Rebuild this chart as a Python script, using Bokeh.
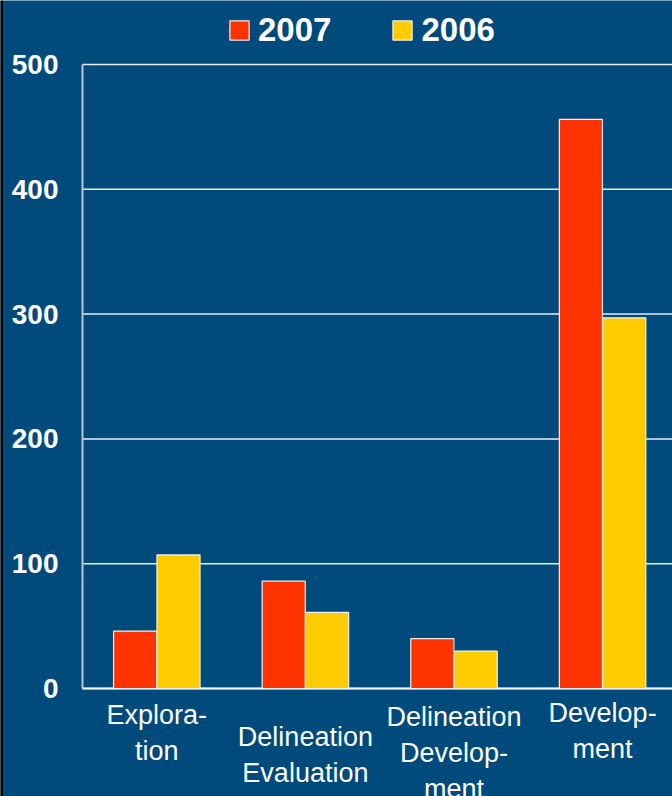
from bokeh.plotting import figure
from bokeh.models import Range1d, Legend, LegendItem, FixedTicker, ColumnDataSource, Span
from bokeh.transform import dodge
from bokeh.core.properties import value
from bokeh.embed import file_html
from bokeh.resources import INLINE

categories = ["Explora-\ntion", "Delineation\nEvaluation", "Delineation\nDevelop-\nment", "Develop-\nment"]
values_2007 = [46, 86, 40, 456]
values_2006 = [107, 61, 30, 297]
series_names = ["2007", "2006"]
y_ticks = [0, 100, 200, 300, 400, 500]

BG = "#014A7C"
RED = "#FF3300"
YEL = "#FFCC00"
FONT = "Liberation Sans"

# layout (pixels)
W, H = 672, 796
LEFT = 82
TOP = 64      # pixel row of the top gridline
BASE = 688    # pixel row of the zero line
CAT_W = 148.6 # pixel width of one category

px_per_unit = (BASE - TOP) / (y_ticks[-1] - y_ticks[0])
y_start = y_ticks[0] - (H - BASE) / px_per_unit
y_end = y_ticks[-1] + TOP / px_per_unit
x_start = -LEFT / CAT_W
x_end = (W - LEFT) / CAT_W

x_pos = [i + 0.5 for i in range(len(categories))]
label_offsets = [11, 33, 13, 9]

src = ColumnDataSource(dict(x=x_pos, v07=values_2007, v06=values_2006,
                            cat=categories, off=label_offsets))

p = figure(width=W, height=H, output_backend="svg", toolbar_location=None,
           x_range=Range1d(x_start, x_end), y_range=Range1d(y_start, y_end),
           min_border_left=0, min_border_right=0, min_border_top=0, min_border_bottom=0)

p.background_fill_color = BG
p.border_fill_color = BG
p.outline_line_color = None

# gridlines (incl. zero line) drawn only over the plotting area
p.xgrid.grid_line_color = None
p.ygrid.grid_line_color = None
p.segment(x0=[0] * len(y_ticks), y0=y_ticks, x1=[x_end] * len(y_ticks), y1=y_ticks,
          line_color="#E8EEF4", line_width=1.5)

# left axis line from 0 to 500
p.segment(x0=[0], y0=[y_ticks[0]], x1=[0], y1=[y_ticks[-1]], line_color="#B4C6D8", line_width=2)
# zero line brighter
p.segment(x0=[0], y0=[0], x1=[x_end], y1=[0], line_color="#F4F4F4", line_width=2)

# dark edge at the far left
p.add_layout(Span(location=x_start, dimension="height", line_color="black", line_width=5))

w = 0.29
r07 = p.vbar(x=dodge("x", -0.146, range=p.x_range), top="v07", width=w, source=src,
             fill_color=RED, line_color="#F0F0F0", line_width=1.2)
r06 = p.vbar(x=dodge("x", 0.146, range=p.x_range), top="v06", width=w, source=src,
             fill_color=YEL, line_color="#F0F0F0", line_width=1.2)

# category labels
p.text(x="x", y=0, text="cat", y_offset="off", source=src, text_align="center",
       text_baseline="top", text_color="white", text_font=value(FONT),
       text_font_size="27px", text_line_height=1.2)

# y axis fixed at x = 0 inside the canvas
p.yaxis.fixed_location = 0
p.yaxis.ticker = FixedTicker(ticks=y_ticks)
p.yaxis.major_label_text_font = FONT
p.yaxis.major_label_text_font_size = "28px"
p.yaxis.major_label_text_font_style = "bold"
p.yaxis.major_label_text_color = "white"
p.yaxis.major_tick_line_color = None
p.yaxis.minor_tick_line_color = None
p.yaxis.major_label_standoff = 18
p.yaxis.axis_line_color = None

p.xaxis.visible = False

legend = Legend(items=[LegendItem(label=series_names[0], renderers=[r07]),
                       LegendItem(label=series_names[1], renderers=[r06])],
                orientation="horizontal", location=(145 + LEFT, 747),
                background_fill_alpha=0, border_line_color=None,
                label_text_font=FONT, label_text_font_size="33px",
                label_text_font_style="bold", label_text_color="white",
                glyph_width=24, glyph_height=24, label_standoff=7, spacing=59,
                padding=0, margin=0)
p.add_layout(legend, "center")

open("out.html", "w").write(file_html(p, INLINE))
